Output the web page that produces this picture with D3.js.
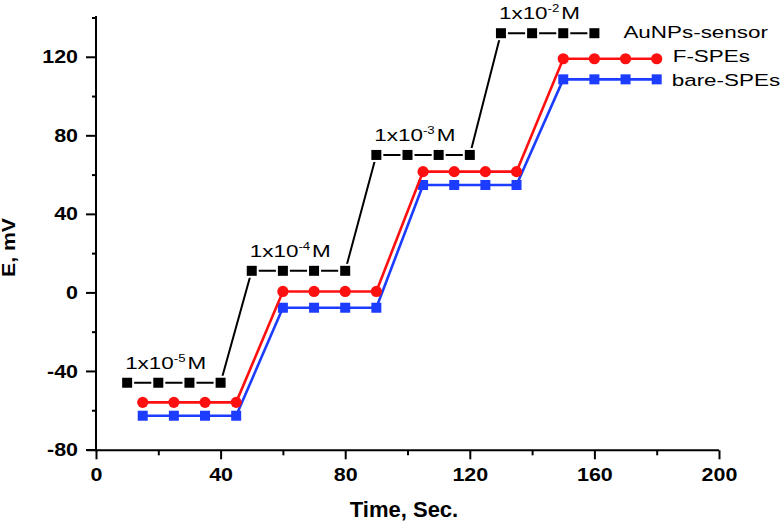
<!DOCTYPE html>
<html><head><meta charset="utf-8">
<script src="https://cdn.jsdelivr.net/npm/d3@7"></script>
<style>
html,body{margin:0;padding:0;background:#fff;}
svg{display:block;}
</style></head>
<body>
<svg id="chart" width="784" height="523"></svg>
<script>
// ---- data ----
const timeAu   = [10,20,30,40,50,60,70,80,90,100,110,120,130,140,150,160];
const eAu      = [-46,-46,-46,-46,11,11,11,11,70,70,70,70,132,132,132,132];
const timeSPE  = [15,25,35,45,60,70,80,90,105,115,125,135,150,160,170,180];
const eF       = [-56,-56,-56,-56,0.5,0.5,0.5,0.5,61.5,61.5,61.5,61.5,119,119,119,119];
const eBare    = [-62.8,-62.8,-62.8,-62.8,-7.8,-7.8,-7.8,-7.8,54.7,54.7,54.7,54.7,108.5,108.5,108.5,108.5];
const seriesNames = ["AuNPs-sensor","F-SPEs","bare-SPEs"];
const concExp  = ["-5","-4","-3","-2"];
const concIdx  = [0,4,8,12];           // first point of each AuNPs step
const xTicks   = [0,40,80,120,160,200];
const xMinor   = [20,60,100,140,180];
const yTicks   = [-80,-40,0,40,80,120];
const yMinor   = [-60,-20,20,60,100,140];
const xTitle = "Time, Sec.";
const yTitle = "E, mV";

// ---- layout ----
const svg = d3.select("#chart");
const x = d3.scaleLinear().domain([0,200]).range([96,719]);
const y = d3.scaleLinear().domain([-80,140]).range([449.5,17.5]);
const FONT = "'Liberation Sans', Arial, sans-serif";
const fmt = d => String(d);

// axes
const axisColor = "#000";
const gx = svg.append("g").attr("transform",`translate(0,${y(-80)+0.8})`);
gx.call(d3.axisBottom(x).tickValues(xTicks).tickFormat(fmt).tickSize(9).tickSizeOuter(0).tickPadding(8));
const gxm = svg.append("g").attr("transform",`translate(0,${y(-80)+0.8})`);
gxm.call(d3.axisBottom(x).tickValues(xMinor).tickSize(5).tickSizeOuter(0).tickFormat(""));
gxm.select(".domain").remove();

const gy = svg.append("g").attr("transform",`translate(${x(0)},0)`);
gy.call(d3.axisLeft(y).tickValues(yTicks).tickFormat(fmt).tickSize(10).tickSizeOuter(0).tickPadding(8));
const gym = svg.append("g").attr("transform",`translate(${x(0)},0)`);
gym.call(d3.axisLeft(y).tickValues(yMinor).tickSize(4).tickSizeOuter(0).tickFormat(""));
gym.select(".domain").remove();

// extend x domain slightly left to meet y axis ticks
gx.select(".domain").attr("d",`M${x(0)-9},0H${x(200)}`);
gy.select(".domain").attr("d",`M0,${y(140)-1.5}V${y(-80)+1.8}`);

svg.selectAll(".domain").attr("stroke",axisColor).attr("stroke-width",2);
svg.selectAll(".tick line").attr("stroke",axisColor).attr("stroke-width",2);

const sx = 1.13;
gx.selectAll(".tick text")
  .attr("font-family",FONT).attr("font-weight","bold").attr("font-size",19).attr("fill","#000")
  .attr("transform",`scale(${sx},1)`);
gy.selectAll(".tick text")
  .attr("font-family",FONT).attr("font-weight","bold").attr("font-size",19).attr("fill","#000")
  .attr("x",-18/sx).attr("transform",`scale(${sx},1)`);

// axis titles
svg.append("text").text(xTitle)
  .attr("x",404).attr("y",516.5).attr("text-anchor","middle")
  .attr("font-family",FONT).attr("font-weight","bold").attr("font-size",22).attr("fill","#000");
svg.append("text").text(yTitle)
  .attr("transform","translate(15,247.5) rotate(-90) scale(1.18,1)").attr("text-anchor","middle")
  .attr("font-family",FONT).attr("font-weight","bold").attr("font-size",18).attr("fill","#000");

// ---- series ----
const line = d3.line().x(d=>x(d[0])).y(d=>y(d[1]));
const dAu   = timeAu.map((t,i)=>[t,eAu[i]]);
const dF    = timeSPE.map((t,i)=>[t,eF[i]]);
const dBare = timeSPE.map((t,i)=>[t,eBare[i]]);

// bare-SPEs (blue squares)
const blue = "#1c3cff", red = "#ff1010";
svg.append("path").datum(dBare).attr("d",line).attr("fill","none").attr("stroke",blue).attr("stroke-width",2.6);
svg.append("g").selectAll("rect").data(dBare).join("rect")
  .attr("x",d=>x(d[0])-5).attr("y",d=>y(d[1])-5).attr("width",10).attr("height",10).attr("fill",blue);

// F-SPEs (red circles)
svg.append("path").datum(dF).attr("d",line).attr("fill","none").attr("stroke",red).attr("stroke-width",2.6);
svg.append("g").selectAll("circle").data(dF).join("circle")
  .attr("cx",d=>x(d[0])).attr("cy",d=>y(d[1])).attr("r",5.6).attr("fill",red);

// AuNPs-sensor (black squares with gap)
svg.append("path").datum(dAu).attr("d",line).attr("fill","none").attr("stroke","#000").attr("stroke-width",2);
svg.append("g").selectAll("rect").data(dAu).join("rect")
  .attr("x",d=>x(d[0])-7).attr("y",d=>y(d[1])-7).attr("width",14).attr("height",14).attr("fill","#fff");
svg.append("g").selectAll("rect").data(dAu).join("rect")
  .attr("x",d=>x(d[0])-5).attr("y",d=>y(d[1])-5).attr("width",10).attr("height",10).attr("fill","#000");

// ---- series labels ----
const lsx = 1.32;
function label(txt, px, py){
  svg.append("text").text(txt)
    .attr("transform",`translate(${px},${py}) scale(${lsx},1)`)
    .attr("font-family",FONT).attr("font-size",17).attr("fill","#000");
}
const lastAu = dAu[dAu.length-1], lastF = dF[dF.length-1], lastB = dBare[dBare.length-1];
label(seriesNames[0], x(lastAu[0])+29, y(lastAu[1])+5);
label(seriesNames[1], x(lastF[0])+16, y(lastF[1])+3);
label(seriesNames[2], x(lastB[0])+15, y(lastB[1])+6.5);

// ---- concentration annotations ----
concIdx.forEach((k,i)=>{
  const p = dAu[k];
  const t = svg.append("text")
    .attr("transform",`translate(${x(p[0])-2},${y(p[1])-14}) scale(${lsx},1)`)
    .attr("font-family",FONT).attr("font-size",17).attr("fill","#000");
  t.append("tspan").text("1x10");
  t.append("tspan").text(concExp[i]).attr("font-size",10).attr("dy",-7);
  t.append("tspan").text("M").attr("dy",7).attr("dx",1.5);
});
</script>
</body></html>
